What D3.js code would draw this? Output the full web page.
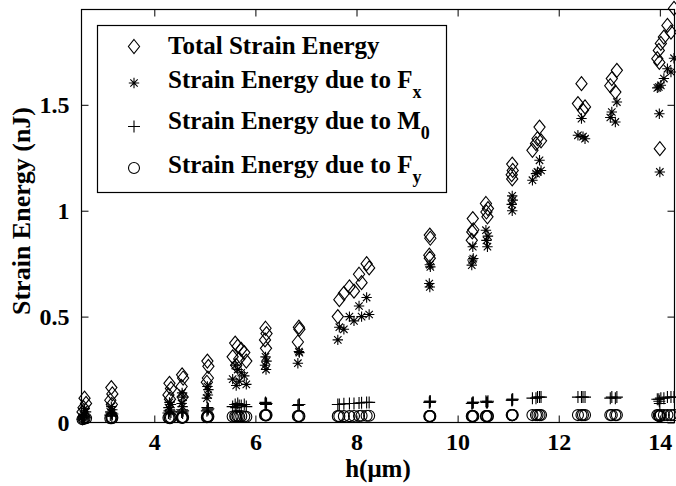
<!DOCTYPE html>
<html>
<head>
<meta charset="utf-8">
<script src="https://cdn.jsdelivr.net/npm/d3@7"></script>
<style>
  body { margin: 0; background: #fff; }
</style>
</head>
<body>
<div id="chart"></div>
<script>
const width = 676;
const height = 486;
const plotLeft = 81.5;
const plotRight = 674.5;
const plotTop = 9.5;
const plotBottom = 422.5;
const tickLength = 7;
const fontFamily = "'Liberation Serif', serif";

// one entry per measurement: h, total energy and its three parts
var hValues = [
  2.62, 2.65, 2.60, 2.58,
  3.15, 3.17, 3.13, 3.16,
  4.30, 4.33, 4.28, 4.31,
  4.55, 4.57, 4.54, 4.56,
  5.05, 5.07, 5.06, 5.04,
  5.60, 5.65, 5.72, 5.78, 5.55, 5.68, 5.82, 5.62,
  6.20, 6.22, 6.19, 6.21,
  6.86, 6.87, 6.84,
  7.63, 7.66, 7.75, 7.86, 7.95, 8.05, 8.10, 8.20, 8.25,
  9.45, 9.46, 9.44, 9.45,
  10.30, 10.31, 10.28, 10.29,
  10.56, 10.60, 10.57, 10.59,
  11.08, 11.09, 11.07, 11.08,
  11.62, 11.58, 11.55, 11.48, 11.65,
  12.45, 12.38, 12.52, 12.48,
  13.15, 13.05, 13.02, 13.12,
  14.28, 14.15, 14.22, 14.08, 14.02, 13.98, 13.95, 14.00, 13.99
];
var totalEnergy = [
  0.115, 0.09, 0.07, 0.05,
  0.165, 0.135, 0.105, 0.085,
  0.185, 0.16, 0.13, 0.11,
  0.225, 0.21, 0.17, 0.12,
  0.29, 0.265, 0.21, 0.19,
  0.375, 0.36, 0.345, 0.33, 0.31, 0.30, 0.29, 0.27,
  0.445, 0.42, 0.39, 0.35,
  0.45, 0.44, 0.38,
  0.50, 0.58, 0.61, 0.64, 0.62, 0.70, 0.66, 0.75, 0.73,
  0.885, 0.87, 0.79, 0.776,
  0.963, 0.91, 0.86, 0.90,
  1.034, 1.01, 0.994, 0.971,
  1.22, 1.19, 1.17, 1.15,
  1.395, 1.34, 1.317, 1.285, 1.33,
  1.60, 1.506, 1.49, 1.474,
  1.663, 1.624, 1.59, 1.56,
  1.955, 1.875, 1.843, 1.82, 1.79, 1.757, 1.718, 1.293, 1.70
];
var fxEnergy = [
  0.065, 0.05, 0.035, 0.025,
  0.075, 0.06, 0.05, 0.045,
  0.095, 0.085, 0.07, 0.06,
  0.14, 0.12, 0.09, 0.075,
  0.17, 0.155, 0.13, 0.115,
  0.27, 0.25, 0.235, 0.22, 0.205, 0.195, 0.18, 0.175,
  0.31, 0.29, 0.27, 0.25,
  0.335, 0.33, 0.28,
  0.39, 0.45, 0.44, 0.50, 0.48, 0.55, 0.50, 0.59, 0.51,
  0.745, 0.735, 0.656, 0.64,
  0.83, 0.774, 0.743, 0.767,
  0.908, 0.88, 0.86, 0.83,
  1.07, 1.05, 1.03, 1.00,
  1.238, 1.183, 1.175, 1.144, 1.19,
  1.435, 1.356, 1.34, 1.35,
  1.513, 1.466, 1.44, 1.419,
  1.72, 1.67, 1.655, 1.624, 1.592, 1.584, 1.58, 1.183, 1.458
];
var m0Energy = [
  0.03, 0.025, 0.02, 0.015,
  0.045, 0.04, 0.035, 0.03,
  0.055, 0.05, 0.045, 0.04,
  0.06, 0.055, 0.05, 0.045,
  0.07, 0.065, 0.06, 0.055,
  0.085, 0.09, 0.08, 0.085, 0.075, 0.08, 0.075, 0.07,
  0.095, 0.09, 0.09, 0.085,
  0.085, 0.085, 0.08,
  0.085, 0.085, 0.088, 0.09, 0.09, 0.092, 0.093, 0.095, 0.095,
  0.10, 0.10, 0.095, 0.095,
  0.095, 0.095, 0.09, 0.09,
  0.10, 0.10, 0.095, 0.095,
  0.11, 0.11, 0.105, 0.105,
  0.12, 0.12, 0.115, 0.115, 0.12,
  0.12, 0.12, 0.12, 0.12,
  0.12, 0.12, 0.115, 0.115,
  0.12, 0.12, 0.12, 0.115, 0.115, 0.11, 0.11, 0.09, 0.10
];
var fyEnergy = [
  0.02, 0.02, 0.018, 0.015,
  0.025, 0.022, 0.02, 0.02,
  0.025, 0.024, 0.022, 0.02,
  0.025, 0.025, 0.023, 0.022,
  0.03, 0.028, 0.026, 0.025,
  0.03, 0.03, 0.03, 0.028, 0.028, 0.027, 0.027, 0.026,
  0.035, 0.035, 0.034, 0.033,
  0.03, 0.03, 0.03,
  0.03, 0.03, 0.03, 0.03, 0.031, 0.031, 0.032, 0.032, 0.032,
  0.03, 0.03, 0.03, 0.03,
  0.03, 0.03, 0.03, 0.03,
  0.03, 0.03, 0.03, 0.03,
  0.035, 0.035, 0.035, 0.035,
  0.035, 0.035, 0.035, 0.035, 0.035,
  0.035, 0.035, 0.035, 0.035,
  0.035, 0.035, 0.035, 0.035,
  0.035, 0.035, 0.035, 0.035, 0.035, 0.035, 0.035, 0.03, 0.03
];

var xDomain = [2.56, 14.29];
var yDomain = [0, 1.95];
var xTicks = [4, 6, 8, 10, 12, 14];
var yTicks = [0, 0.5, 1, 1.5];
var yTickLabels = ["0", "0.5", "1", "1.5"];
var xLabel = "h(\u03bcm)";
var yLabel = "Strain Energy (nJ)";
var legendTexts = ["Total Strain Energy", "Strain Energy due to F", "Strain Energy due to M", "Strain Energy due to F"];
var legendSubs = ["", "x", "0", "y"];
var markerKinds = ["diamond", "asterisk", "plus", "circle"];

var svg = d3.select("#chart")
  .append("svg")
  .attr("width", width)
  .attr("height", height)
  .style("background", "#fff");

var x = d3.scaleLinear().domain(xDomain).range([plotLeft, plotRight]);
var y = d3.scaleLinear().domain(yDomain).range([plotBottom, plotTop]);

// marker shapes, MATLAB look
var markerPath = function (kind, cx, cy) {
  if (kind === "diamond") {
    return "M" + cx + "," + (cy - 7) + "L" + (cx + 5.6) + "," + cy + "L" + cx + "," + (cy + 7) + "L" + (cx - 5.6) + "," + cy + "Z";
  }
  if (kind === "asterisk") {
    var r = 5.2, d = 3.7;
    return "M" + cx + "," + (cy - r) + "L" + cx + "," + (cy + r) +
      "M" + (cx - r) + "," + cy + "L" + (cx + r) + "," + cy +
      "M" + (cx - d) + "," + (cy - d) + "L" + (cx + d) + "," + (cy + d) +
      "M" + (cx - d) + "," + (cy + d) + "L" + (cx + d) + "," + (cy - d);
  }
  if (kind === "plus") {
    var p = 6;
    return "M" + cx + "," + (cy - p) + "L" + cx + "," + (cy + p) +
      "M" + (cx - p) + "," + cy + "L" + (cx + p) + "," + cy;
  }
  var c = 5.5;
  return "M" + (cx - c) + "," + cy + "A" + c + "," + c + " 0 1,0 " + (cx + c) + "," + cy +
    "A" + c + "," + c + " 0 1,0 " + (cx - c) + "," + cy + "Z";
};

var styleText = function (sel, size) {
  sel.style("font-family", fontFamily)
    .style("font-weight", "bold")
    .style("font-size", size + "px")
    .attr("fill", "#000");
};

// axes: ticks inside on all four sides
svg.append("g")
  .attr("transform", "translate(0," + plotBottom + ")")
  .call(d3.axisBottom(x).tickValues(xTicks).tickSizeInner(-tickLength).tickSizeOuter(0).tickPadding(10))
  .call(function (g) { g.select(".domain").remove(); g.attr("font-family", null).attr("font-size", null); })
  .call(function (g) { styleText(g.selectAll("text").attr("dy", "0.71em"), 24); });

svg.append("g")
  .attr("transform", "translate(0," + plotTop + ")")
  .call(d3.axisTop(x).tickValues(xTicks).tickSizeInner(-tickLength).tickSizeOuter(0).tickFormat(""))
  .call(function (g) { g.select(".domain").remove(); });

svg.append("g")
  .attr("transform", "translate(" + plotLeft + ",0)")
  .call(d3.axisLeft(y).tickValues(yTicks).tickSizeInner(-tickLength).tickSizeOuter(0).tickPadding(12)
    .tickFormat(function (d, i) { return yTickLabels[i]; }))
  .call(function (g) { g.select(".domain").remove(); g.attr("font-family", null).attr("font-size", null); })
  .call(function (g) { styleText(g.selectAll("text").attr("dy", "0.34em"), 24); });

svg.append("g")
  .attr("transform", "translate(" + plotRight + ",0)")
  .call(d3.axisRight(y).tickValues(yTicks).tickSizeInner(-tickLength).tickSizeOuter(0).tickFormat(""))
  .call(function (g) { g.select(".domain").remove(); });

svg.selectAll(".tick line").attr("stroke", "#000");

// data markers
var seriesValues = [totalEnergy, fxEnergy, m0Energy, fyEnergy];
seriesValues.forEach(function (values, s) {
  svg.append("g")
    .selectAll("path")
    .data(hValues)
    .enter()
    .append("path")
    .attr("d", function (h, i) { return markerPath(markerKinds[s], x(h), y(values[i])); })
    .attr("fill", "none")
    .attr("stroke", "#000")
    .attr("stroke-width", 1.1);
});

// plot box
svg.append("rect")
  .attr("x", plotLeft)
  .attr("y", plotTop)
  .attr("width", plotRight - plotLeft)
  .attr("height", plotBottom - plotTop)
  .attr("fill", "none")
  .attr("stroke", "#000")
  .attr("stroke-width", 1.2);

// axis labels
svg.append("text")
  .attr("x", (plotLeft + plotRight) / 2)
  .attr("y", 477)
  .attr("text-anchor", "middle")
  .call(styleText, 25)
  .text(xLabel);

svg.append("text")
  .attr("transform", "translate(30,211) rotate(-90)")
  .attr("text-anchor", "middle")
  .call(styleText, 26)
  .text(yLabel);

// legend
var legend = svg.append("g");
legend.append("rect")
  .attr("x", 97.5)
  .attr("y", 25.5)
  .attr("width", 349)
  .attr("height", 167)
  .attr("fill", "#fff")
  .attr("stroke", "#000")
  .attr("stroke-width", 1.2);

var legendBaselines = [54, 88, 128.5, 173];
var legendMarkerY = [46.5, 83, 126.5, 168];
legendTexts.forEach(function (label, i) {
  legend.append("path")
    .attr("d", markerPath(markerKinds[i], 134, legendMarkerY[i]))
    .attr("fill", "none")
    .attr("stroke", "#000")
    .attr("stroke-width", 1.1);
  var t = legend.append("text")
    .attr("x", 168)
    .attr("y", legendBaselines[i])
    .call(styleText, 25)
    .text(label);
  if (legendSubs[i]) {
    t.append("tspan")
      .style("font-size", "18px")
      .attr("dy", 10)
      .text(legendSubs[i]);
  }
});
</script>
</body>
</html>
